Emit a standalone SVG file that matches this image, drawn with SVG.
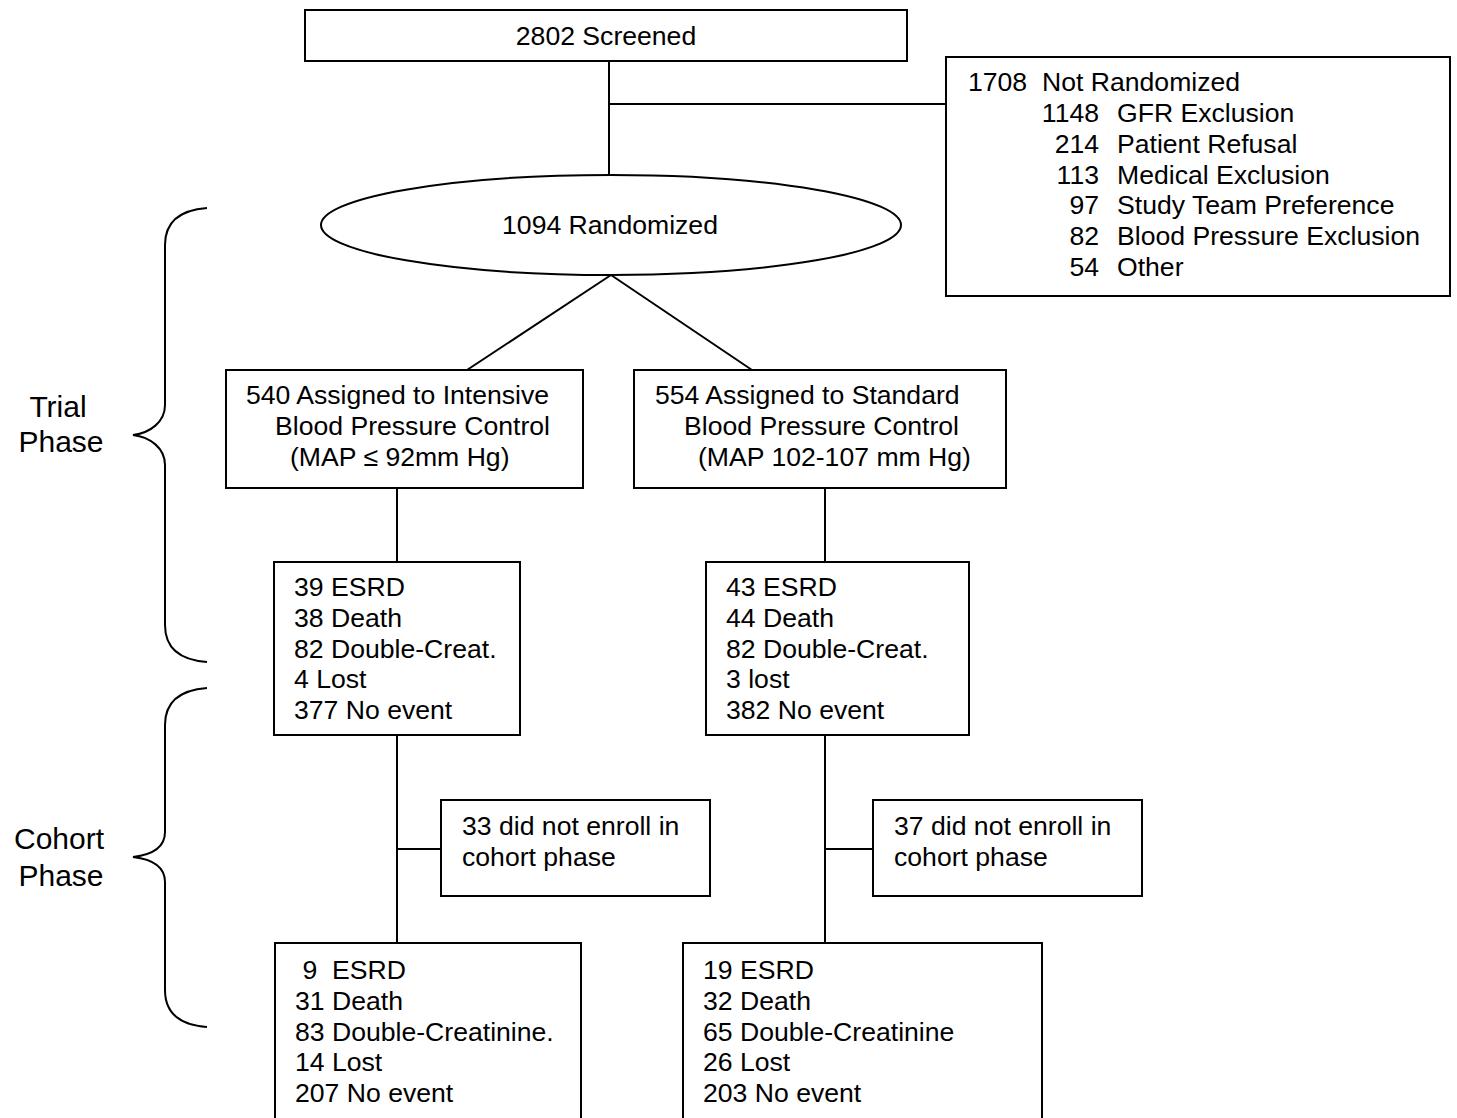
<svg xmlns="http://www.w3.org/2000/svg" width="1457" height="1118" viewBox="0 0 1457 1118">
<style>
.b{fill:#fff;stroke:#000;stroke-width:2}
.c{fill:none;stroke:#000;stroke-width:2}
text{font-family:"Liberation Sans",Arial,sans-serif;font-size:26.6px;fill:#000}
.m{text-anchor:middle}
.e{text-anchor:end}
.p{font-size:30px;text-anchor:middle}
</style>
<rect width="1457" height="1118" fill="#fff"/>
<g id="connectors">
<line class="c" x1="609" y1="61" x2="609" y2="175"/>
<line class="c" x1="609" y1="104" x2="946" y2="104"/>
<line class="c" x1="611" y1="275" x2="467" y2="370"/>
<line class="c" x1="611" y1="275" x2="752" y2="370"/>
<line class="c" x1="397" y1="488" x2="397" y2="562"/>
<line class="c" x1="825" y1="488" x2="825" y2="562"/>
<line class="c" x1="397" y1="735" x2="397" y2="943"/>
<line class="c" x1="397" y1="849" x2="441" y2="849"/>
<line class="c" x1="825" y1="735" x2="825" y2="943"/>
<line class="c" x1="825" y1="849" x2="873" y2="849"/>
</g>
<g id="braces">
<path class="c" d="M207,208 C180,210 165,222 165,245 L165,405 C165,422 150,433 133,435 C150,437 165,448 165,465 L165,625 C165,648 180,660 207,662"/>
<text class="p" x="58" y="417">Trial</text>
<text class="p" x="61" y="452">Phase</text>
<path class="c" d="M207,688 C180,690 165,702 165,725 L165,832 C165,849 150,855 133,857 C150,859 165,865 165,882 L165,990 C165,1013 180,1025 207,1027"/>
<text class="p" x="59" y="849">Cohort</text>
<text class="p" x="61" y="886">Phase</text>
</g>
<g id="screened">
<rect class="b" x="305" y="10" width="602" height="51"/>
<text class="m" x="606" y="45">2802 Screened</text>
</g>
<g id="not-randomized">
<rect class="b" x="946" y="57" width="504" height="239"/>
<text x="968" y="91">1708</text><text x="1042" y="91">Not Randomized</text>
<text class="e" x="1099" y="122">1148</text><text x="1117" y="122">GFR Exclusion</text>
<text class="e" x="1099" y="153">214</text><text x="1117" y="153">Patient Refusal</text>
<text class="e" x="1099" y="184">113</text><text x="1117" y="184">Medical Exclusion</text>
<text class="e" x="1099" y="214">97</text><text x="1117" y="214">Study Team Preference</text>
<text class="e" x="1099" y="245">82</text><text x="1117" y="245">Blood Pressure Exclusion</text>
<text class="e" x="1099" y="276">54</text><text x="1117" y="276">Other</text>
</g>
<g id="randomized">
<ellipse class="b" cx="611" cy="225" rx="290" ry="50"/>
<text class="m" x="610" y="234">1094 Randomized</text>
</g>
<g id="intensive">
<rect class="b" x="226" y="370" width="357" height="118"/>
<text x="246" y="404">540 Assigned to Intensive</text>
<text x="275" y="435">Blood Pressure Control</text>
<text x="290" y="466">(MAP ≤ 92mm Hg)</text>
</g>
<g id="standard">
<rect class="b" x="634" y="370" width="372" height="118"/>
<text x="655" y="404">554 Assigned to Standard</text>
<text x="684" y="435">Blood Pressure Control</text>
<text x="698" y="466">(MAP 102-107 mm Hg)</text>
</g>
<g id="trial-intensive">
<rect class="b" x="274" y="562" width="246" height="173"/>
<text x="294" y="596">39 ESRD</text>
<text x="294" y="627">38 Death</text>
<text x="294" y="658">82 Double-Creat.</text>
<text x="294" y="688">4 Lost</text>
<text x="294" y="719">377 No event</text>
</g>
<g id="trial-standard">
<rect class="b" x="706" y="562" width="263" height="173"/>
<text x="726" y="596">43 ESRD</text>
<text x="726" y="627">44 Death</text>
<text x="726" y="658">82 Double-Creat.</text>
<text x="726" y="688">3 lost</text>
<text x="726" y="719">382 No event</text>
</g>
<g id="noenroll-intensive">
<rect class="b" x="441" y="800" width="269" height="96"/>
<text x="462" y="835">33 did not enroll in</text>
<text x="462" y="866">cohort phase</text>
</g>
<g id="noenroll-standard">
<rect class="b" x="873" y="800" width="269" height="96"/>
<text x="894" y="835">37 did not enroll in</text>
<text x="894" y="866">cohort phase</text>
</g>
<g id="cohort-intensive">
<rect class="b" x="275" y="943" width="306" height="190"/>
<text x="295" y="979" xml:space="preserve"> 9  ESRD</text>
<text x="295" y="1010">31 Death</text>
<text x="295" y="1041">83 Double-Creatinine.</text>
<text x="295" y="1071">14 Lost</text>
<text x="295" y="1102">207 No event</text>
</g>
<g id="cohort-standard">
<rect class="b" x="683" y="943" width="359" height="190"/>
<text x="703" y="979">19 ESRD</text>
<text x="703" y="1010">32 Death</text>
<text x="703" y="1041">65 Double-Creatinine</text>
<text x="703" y="1071">26 Lost</text>
<text x="703" y="1102">203 No event</text>
</g>
</svg>
